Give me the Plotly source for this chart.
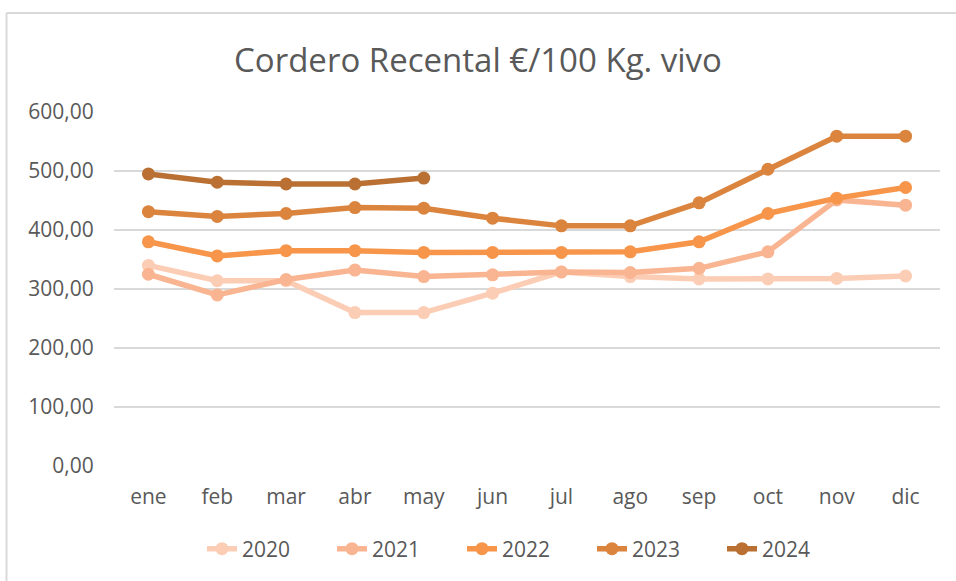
import plotly.graph_objects as go

months = ["ene", "feb", "mar", "abr", "may", "jun", "jul", "ago", "sep", "oct", "nov", "dic"]
y2020 = [340, 314, 314, 260, 260, 293, 329, 321, 317, 317, 318, 322]
y2021 = [325, 290, 316, 332, 321, 324, 329, 328, 335, 363, 451, 442]
y2022 = [380, 356, 365, 365, 362, 362, 362, 363, 380, 428, 454, 472]
y2023 = [431, 423, 428, 438, 437, 420, 407, 407, 446, 503, 559, 559]
y2024 = [495, 481, 478, 478, 488]
years = ["2020", "2021", "2022", "2023", "2024"]
colors = ["#FCCDB5", "#F9B591", "#F7964A", "#DB843E", "#B97032"]
series = [y2020, y2021, y2022, y2023, y2024]

fig = go.Figure()
for name, vals, col in zip(years, series, colors):
    fig.add_trace(go.Scatter(
        x=months[:len(vals)], y=vals, name=name, mode="lines+markers",
        line=dict(color=col, width=5.5), marker=dict(color=col, size=13),
    ))

L, R, T, B = 114, 16, 112, 115
W, H = 956, 581
pw = W - L - R
ph = H - T - B

fig.update_layout(
    width=W, height=H,
    margin=dict(l=L, r=R, t=T, b=B),
    paper_bgcolor="white", plot_bgcolor="white",
    font=dict(family="Open Sans", color="#595959", size=21),
    separators=",.",
    title=dict(text="Cordero Recental €/100 Kg. vivo", x=0.5, xanchor="center",
               y=1 - 60 / H, yanchor="middle", yref="container",
               font=dict(size=33, color="#595959")),
    showlegend=True,
    legend=dict(orientation="h", x=0.5, xanchor="center", y=(466 - 549) / ph,
                yanchor="middle", font=dict(size=21, color="#595959"),
                entrywidth=85, entrywidthmode="pixels", traceorder="normal"),
    xaxis=dict(type="category", categoryorder="array", categoryarray=months,
               range=[-0.5, 11.5], showgrid=False, showline=False, zeroline=False,
               ticks="outside", ticklen=12, tickcolor="white", tickfont=dict(size=21)),
    yaxis=dict(range=[0, 600], tickvals=[0, 100, 200, 300, 400, 500, 600],
               tickformat=".2f", showgrid=True, gridcolor="#D9D9D9", gridwidth=1.5,
               zeroline=False, showline=False,
               ticks="outside", ticklen=15, tickcolor="white", tickfont=dict(size=21)),
    shapes=[
        dict(type="line", xref="paper", yref="paper",
             x0=(6.5 - L) / pw, x1=(6.5 - L) / pw, y0=(H - 13 - (H - T - ph)) / ph + (H - T - ph - B) / ph, y1=-B / ph,
             line=dict(color="#D9D9D9", width=2)),
        dict(type="line", xref="paper", yref="paper",
             x0=(6.5 - L) / pw, x1=(W - L) / pw, y0=(T - 13) / ph + 1, y1=(T - 13) / ph + 1,
             line=dict(color="#D9D9D9", width=2)),
    ],
)
fig.write_html("out.html", config={"displayModeBar": False},
               post_script="document.body.style.margin='0';document.body.style.overflow='hidden';")
